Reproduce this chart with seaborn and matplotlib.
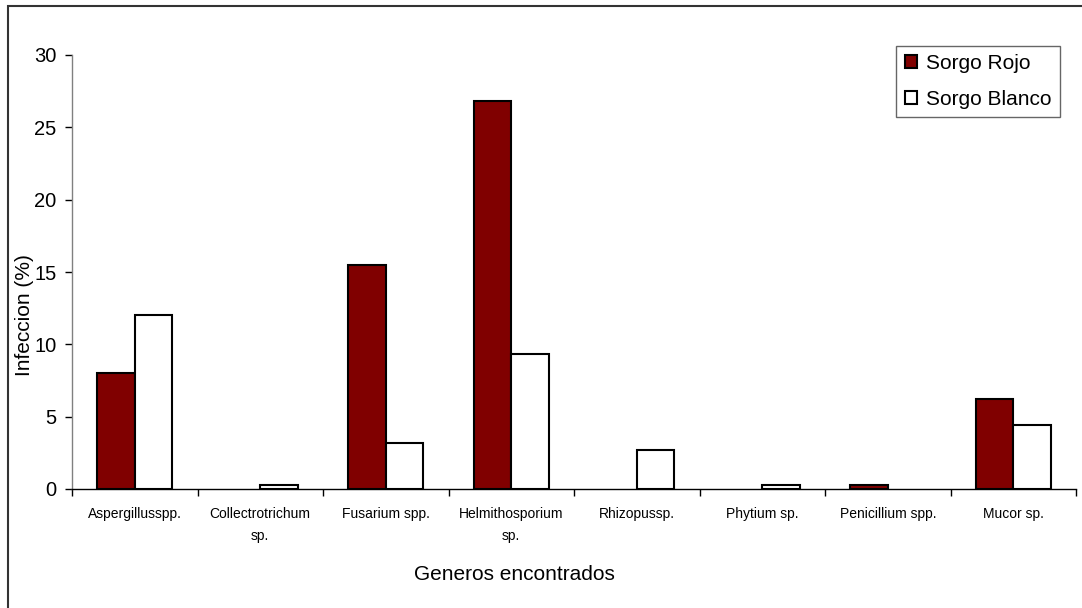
import matplotlib
matplotlib.use("Agg")
import matplotlib.pyplot as plt
import seaborn as sns
import pandas as pd
from matplotlib.patches import Rectangle
from matplotlib.ticker import FixedLocator

# Infection percentage by fungal genus for two sorghum types
generos = [
    "Aspergillusspp.", "Collectrotrichum\nsp.", "Fusarium spp.", "Helmithosporium\nsp.",
    "Rhizopussp.", "Phytium sp.", "Penicillium spp.", "Mucor sp.",
]
sorgo_rojo = [8.0, 0.0, 15.5, 26.8, 0.0, 0.0, 0.3, 6.2]
sorgo_blanco = [12.0, 0.3, 3.2, 9.3, 2.7, 0.3, 0.0, 4.4]
series = ["Sorgo Rojo", "Sorgo Blanco"]
y_ticks = [0, 5, 10, 15, 20, 25, 30]

df = pd.DataFrame({
    "Genero": generos * 2,
    "Infeccion": sorgo_rojo + sorgo_blanco,
    "Tipo": [series[0]] * len(generos) + [series[1]] * len(generos),
})

sns.set_theme(style="white")
plt.rcParams["font.family"] = ["Liberation Sans", "DejaVu Sans"]
plt.rcParams["text.color"] = "black"
plt.rcParams["axes.labelcolor"] = "black"
plt.rcParams["xtick.color"] = "black"
plt.rcParams["ytick.color"] = "black"

fig = plt.figure(figsize=(10.82, 6.08), dpi=100)
ax = fig.add_axes([72 / 1082, 1 - 489 / 608, 1004 / 1082, 434 / 608])

sns.barplot(
    data=df, x="Genero", y="Infeccion", hue="Tipo", order=generos,
    hue_order=series, palette={"Sorgo Rojo": "#800000", "Sorgo Blanco": "white"},
    edgecolor="black", linewidth=1.5, width=0.6, gap=0, ax=ax, saturation=1,
)

# empty categories leave no outline on the axis
for container in ax.containers:
    for bar in container:
        if bar.get_height() == 0:
            bar.set_linewidth(0)

ax.set_xlim(-0.5, len(generos) - 0.5)
ax.set_ylim(0, 30)
ax.set_yticks(y_ticks)
ax.set_yticklabels([str(t) for t in y_ticks], fontsize=14.5)

# category labels at centres, tick marks at boundaries
ax.tick_params(axis="x", which="major", length=0, pad=13, labelsize=10)
ax.xaxis.set_minor_locator(FixedLocator([i - 0.5 for i in range(len(generos) + 1)]))
ax.tick_params(axis="x", which="minor", bottom=True, length=5, width=1, color="black", direction="out")
ax.tick_params(axis="y", left=True, length=5, width=1, color="black", direction="out", pad=6)
for lbl in ax.get_xticklabels():
    lbl.set_linespacing(1.75)
    lbl.set_verticalalignment("top")

for side in ["top", "right"]:
    ax.spines[side].set_visible(False)
ax.spines["left"].set_color("#808080")
ax.spines["left"].set_linewidth(1.0)
ax.spines["bottom"].set_color("black")
ax.spines["bottom"].set_linewidth(1.0)

ax.set_xlabel("")
ax.set_ylabel("Infeccion (%)", fontsize=15, labelpad=0)
ax.yaxis.set_label_coords(-0.038, 0.40)

fig.text(514 / 1082, 1 - 574 / 608, "Generos encontrados", fontsize=15,
         ha="center", va="center")

leg = ax.legend(
    loc="upper right", bbox_to_anchor=(1060 / 1082, 1 - 46 / 608),
    bbox_transform=fig.transFigure, fontsize=15, frameon=True, fancybox=False,
    edgecolor="#404040", handlelength=0.58, handleheight=0.58, handletextpad=0.45,
    labelspacing=0.8, borderpad=0.4, borderaxespad=0, title=None,
)
leg.get_frame().set_linewidth(1.0)
for handle in leg.get_patches():
    handle.set_edgecolor("black")
    handle.set_linewidth(1.5)

# outer chart frame
fig.patches.append(Rectangle((8 / 1082, -0.1), 1.2, 1 - 6 / 608 + 0.1,
                             transform=fig.transFigure, fill=False,
                             edgecolor="#333333", linewidth=1.5))

fig.savefig("out.png", dpi=100, facecolor="white")
